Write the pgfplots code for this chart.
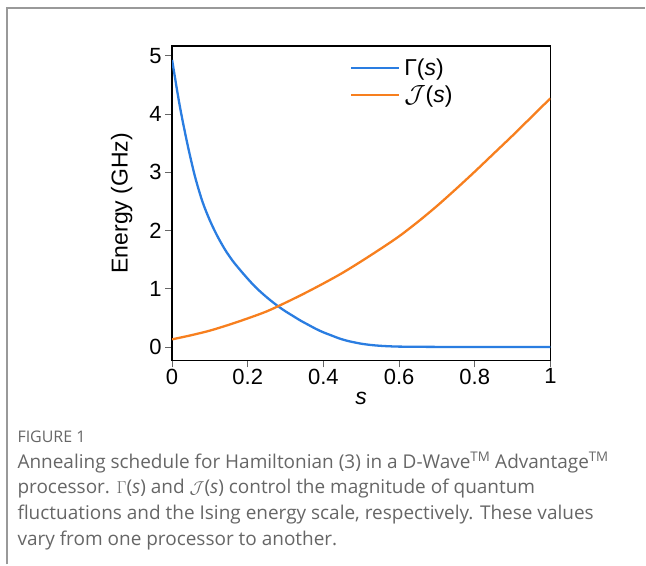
\documentclass[border=0pt]{standalone}
\usepackage{pgfplots}
\pgfplotsset{compat=1.18}
\usepackage{fontspec}
\setmainfont{Liberation Sans}
\newfontfamily\capfont{Open Sans}
\definecolor{gblue}{HTML}{2A7DE1}
\definecolor{gorange}{HTML}{F77F1E}
\definecolor{capgray}{HTML}{666666}
\definecolor{framegray}{HTML}{999999}
\begin{document}
\begin{tikzpicture}[x=1pt,y=1pt]
\path (0,0) rectangle (646,-565);
\draw[framegray, line width=1.5pt] (7,-565) -- (7,-8) -- (646,-8);
\begin{axis}[
  at={(172.3pt,-360.7pt)}, anchor=south west,
  scale only axis, width=378.7pt, height=314.7pt,
  xmin=0, xmax=1, ymin=-0.23, ymax=5.17,
  axis line style={line width=1.5pt},
  tick align=outside, tick pos=left,
  major tick length=7pt,
  tick style={black!60, line width=0.8pt},
  xtick={0,0.2,0.4,0.6,0.8,1},
  ytick={0,1,2,3,4,5},
  /pgf/number format/assume math mode=true,
  ticklabel style={font=\fontsize{22}{26}\selectfont},
  xticklabel style={yshift=2pt},
  xlabel={\textit{s}},
  ylabel={Energy (GHz)},
  xlabel style={yshift=-1pt},
  ylabel style={yshift=10pt},
  label style={font=\fontsize{23}{27}\selectfont},
  legend style={draw=none, fill=none, at={(0.462,0.97)}, anchor=north west,
    font=\fontsize{23}{27}\selectfont, row sep=7pt,
    nodes={inner xsep=4pt, inner ysep=1pt}},
  legend cell align=left,
  legend image code/.code={\draw[#1] (0pt,0pt) -- (48pt,0pt);},
]
\addplot[gblue, line width=2.3pt, smooth] table {
0.00 4.93
0.02 4.15
0.04 3.50
0.06 2.94
0.08 2.50
0.10 2.17
0.12 1.90
0.14 1.67
0.16 1.48
0.18 1.32
0.20 1.17
0.22 1.03
0.24 0.91
0.26 0.80
0.28 0.70
0.30 0.61
0.32 0.53
0.34 0.45
0.36 0.38
0.38 0.31
0.40 0.25
0.42 0.20
0.44 0.15
0.46 0.11
0.48 0.08
0.50 0.055
0.52 0.037
0.54 0.024
0.56 0.015
0.58 0.009
0.60 0.005
0.65 0.002
0.70 0.0
0.80 0.0
0.90 0.0
1.00 0.0
};
\addlegendentry{Γ(\textit{s})}
\addplot[gorange, line width=2.3pt, smooth] table {
0.00 0.13
0.05 0.20
0.10 0.28
0.15 0.38
0.20 0.49
0.25 0.61
0.30 0.76
0.35 0.92
0.40 1.09
0.45 1.27
0.50 1.47
0.55 1.68
0.60 1.90
0.65 2.15
0.70 2.42
0.75 2.71
0.80 3.01
0.85 3.32
0.90 3.63
0.95 3.95
1.00 4.27
};
\addlegendentry{$\mathcal{J}$(\textit{s})}
\end{axis}
\begin{scope}[capgray]
\node[anchor=west, font=\capfont\fontsize{16}{18}\selectfont] at (14,-437) {FIGURE 1};
\node[anchor=west, font=\capfont\fontsize{19}{22}\selectfont] at (14,-463) {Annealing schedule for Hamiltonian (3) in a D-Wave\textsuperscript{TM} Advantage\textsuperscript{TM}};
\node[anchor=west, font=\capfont\fontsize{19}{22}\selectfont] at (14,-489) {processor. $\Gamma$(\textit{s}) and $\mathcal{J}$(\textit{s}) control the magnitude of quantum};
\node[anchor=west, font=\capfont\fontsize{19}{22}\selectfont] at (14,-515) {fluctuations and the Ising energy scale, respectively. These values};
\node[anchor=west, font=\capfont\fontsize{19}{22}\selectfont] at (14,-541) {vary from one processor to another.};
\end{scope}
\end{tikzpicture}
\end{document}
